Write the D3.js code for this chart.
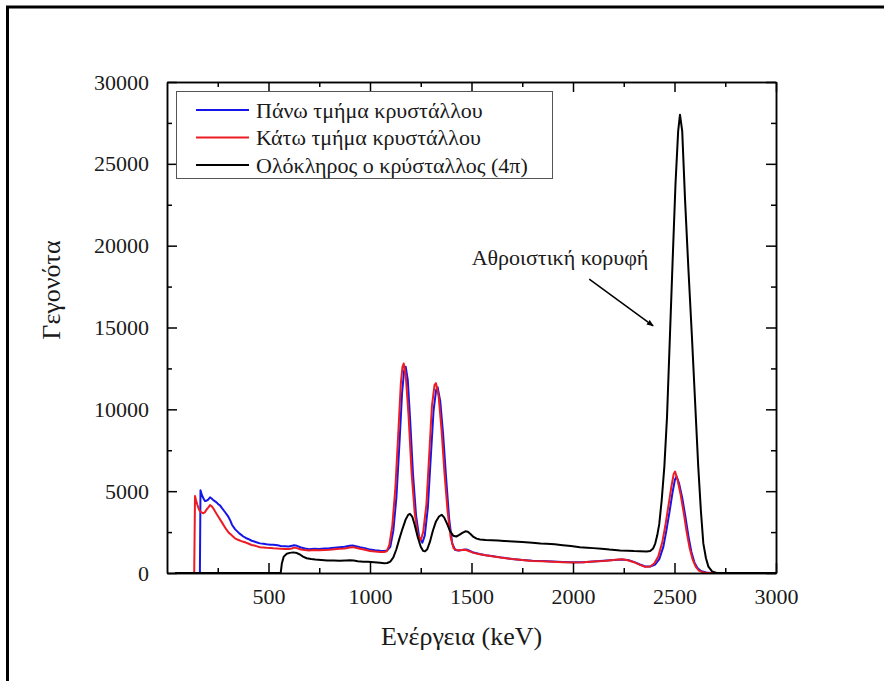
<!DOCTYPE html>
<html>
<head>
<meta charset="utf-8">
<script src="https://cdn.jsdelivr.net/npm/d3@7"></script>
<style>
  html, body { margin: 0; padding: 0; background: #fff; }
  svg text { font-family: "Liberation Serif", "Times New Roman", serif; fill: #1a1a1a; }
</style>
</head>
<body>
<svg id="chart" width="884" height="681"></svg>
<script>
// ---------- DATA ----------
const seriesNames = ["Πάνω τμήμα κρυστάλλου", "Κάτω τμήμα κρυστάλλου", "Ολόκληρος ο κρύσταλλος (4π)"];
const seriesColors = ["#1515e8", "#ec1c24", "#000000"];

const upperEnergy = [40,162,165,172,180,187,195,203,212,220,228,237,245,253,262,270,278,290,302,312,320,335,345,356,366,376,388,400,417,430,440,458,475,490,510,524,545,560,580,600,615,625,640,660,680,700,725,750,775,800,825,850,875,900,915,930,950,975,1000,1025,1050,1070,1085,
  1100,1115,1130,1145,1158,1168,1176,1186,1198,1212,1227,1242,1258,1270,1285,1299,1313,1326,1333,1346,1360,1375,1390,1405,1420,1440,1460,1475,1490,1510,1540,1570,1600,1650,1700,1750,1800,1850,1900,1950,2000,2050,2100,2150,2200,2240,2270,2300,2330,2355,2380,2405,2425,2445,2460,2475,2490,2502,2510,2522,2538,2553,2568,2583,2598,2613,2630,2655,2680,3000];
const upperCounts = [0,0,5050,4750,4550,4400,4420,4480,4620,4550,4450,4380,4300,4200,4120,3980,3850,3650,3440,3200,2950,2680,2560,2420,2330,2230,2140,2080,1970,1920,1880,1810,1790,1760,1730,1720,1690,1650,1640,1620,1660,1700,1660,1560,1500,1450,1480,1470,1500,1510,1540,1570,1600,1660,1680,1640,1580,1520,1430,1390,1360,1350,1380,
  1600,2600,4600,7900,11000,12350,12600,11800,9300,6000,3500,2200,1850,2300,4000,7000,9900,11200,11350,10500,8500,5800,3300,1800,1400,1380,1420,1440,1360,1250,1160,1090,1040,940,860,800,750,730,700,670,650,660,710,750,800,830,790,680,520,400,390,520,850,1600,2600,3700,4900,5700,5900,5500,4600,3500,2300,1300,650,300,120,30,0,0];

const lowerEnergy = [40,134,138,143,150,157,163,170,179,187,195,203,212,220,228,240,253,265,275,285,294,305,315,325,335,346,356,366,376,388,400,417,430,440,458,475,490,510,524,545,560,580,600,615,625,640,660,680,700,725,750,775,800,825,850,875,900,915,930,950,975,1000,1025,1050,1070,1082,
  1095,1110,1125,1140,1152,1160,1166,1176,1190,1205,1220,1235,1250,1262,1278,1292,1305,1318,1325,1338,1352,1367,1382,1397,1412,1430,1450,1470,1490,1510,1540,1570,1600,1650,1700,1750,1800,1850,1900,1950,2000,2050,2100,2150,2200,2240,2270,2300,2330,2355,2380,2400,2420,2440,2455,2470,2485,2496,2503,2515,2530,2545,2560,2575,2590,2605,2620,2640,2665,3000];
const lowerCounts = [0,0,4700,4450,4150,3900,3750,3700,3650,3720,3880,4000,4150,4080,3950,3700,3440,3200,3000,2800,2630,2450,2350,2230,2120,2050,2000,1950,1910,1860,1800,1710,1680,1640,1570,1560,1540,1530,1510,1490,1480,1470,1460,1500,1550,1520,1440,1400,1380,1400,1390,1410,1420,1450,1480,1500,1560,1580,1540,1480,1420,1350,1310,1290,1280,1320,
  1700,2900,5200,8700,11600,12600,12800,12100,9600,6100,3700,2350,2000,2500,4200,7300,10200,11500,11600,10800,8800,6100,3800,2200,1500,1380,1400,1420,1330,1230,1150,1080,1030,930,850,790,740,720,690,660,640,650,700,740,800,840,780,660,500,380,400,580,1000,1900,2900,4100,5300,6050,6200,5700,4800,3700,2500,1500,800,380,150,40,0,0];

const fullEnergy = [40,560,566,575,590,605,622,640,655,670,688,710,730,760,790,820,850,880,901,920,940,967,990,1020,1050,1070,1085,1100,1115,1130,1145,1160,1175,1188,1197,1208,1220,1235,1250,1262,1271,1282,1295,1310,1325,1340,1353,1365,1380,1395,1410,1425,1440,1455,1470,1482,1495,1510,1525,1542,1570,1600,1630,1660,1706,1750,1800,1840,1870,1910,1950,1990,2034,2070,2100,2140,2180,2232,2270,2300,2330,2363,2380,2395,2405,2415,2425,2437,2450,2463,2478,2492,2505,2518,2527,2538,2552,2568,2585,2601,2617,2630,2642,2655,2667,2685,2708,2800,3000];
const fullCounts = [0,0,600,1000,1180,1230,1260,1220,1130,1000,900,850,820,800,770,760,750,770,780,760,720,690,680,650,620,600,610,700,950,1450,2100,2700,3250,3550,3620,3450,2950,2200,1600,1350,1320,1450,1900,2600,3150,3450,3560,3400,3000,2550,2280,2230,2330,2450,2550,2520,2380,2200,2100,2050,2020,2000,1980,1960,1920,1890,1850,1800,1780,1750,1700,1650,1580,1550,1520,1480,1430,1380,1360,1340,1330,1320,1340,1500,1800,2300,3000,4460,6500,9500,14660,19500,23800,27000,28000,27000,22800,18700,14650,10570,6500,3800,1810,900,390,100,0,0,0];

const xTickValues = [500, 1000, 1500, 2000, 2500, 3000];
const xMinorTicks = [250, 750, 1250, 1750, 2250, 2750];
const yTickValues = [0, 5000, 10000, 15000, 20000, 25000, 30000];
const yMinorTicks = [2500, 7500, 12500, 17500, 22500, 27500];

const xTitle = "Ενέργεια (keV)";
const yTitle = "Γεγονότα";
const annotationText = "Αθροιστική κορυφή";

// ---------- LAYOUT ----------
const svg = d3.select("#chart");
const plot = { left: 167, right: 776, top: 82, bottom: 573 };

svg.append("rect").attr("width", 884).attr("height", 681).attr("fill", "#fff");
// outer frame (top & left)
svg.append("line").attr("x1", 6).attr("x2", 884).attr("y1", 7).attr("y2", 7)
  .attr("stroke", "#000").attr("stroke-width", 3);
svg.append("line").attr("x1", 7.5).attr("x2", 7.5).attr("y1", 6).attr("y2", 681)
  .attr("stroke", "#000").attr("stroke-width", 3);

const x = d3.scaleLinear().domain([0, 3000]).range([plot.left, plot.right]);
const y = d3.scaleLinear().domain([0, 30000]).range([plot.bottom, plot.top]);

// ---------- SERIES ----------
const line = d3.line().x(d => x(d[0])).y(d => y(d[1])).curve(d3.curveLinear);
const series = [
  { e: upperEnergy, c: upperCounts, color: seriesColors[0] },
  { e: lowerEnergy, c: lowerCounts, color: seriesColors[1] },
  { e: fullEnergy, c: fullCounts, color: seriesColors[2] }
];
const clip = svg.append("clipPath").attr("id", "clip").append("rect")
  .attr("x", plot.left).attr("y", plot.top)
  .attr("width", plot.right - plot.left).attr("height", plot.bottom - plot.top);
const gLines = svg.append("g").attr("clip-path", "url(#clip)");
series.forEach(s => {
  const pts = s.e.map((e, i) => [e, s.c[i]]);
  gLines.append("path").datum(pts).attr("d", line)
    .attr("fill", "none").attr("stroke", s.color)
    .attr("stroke-width", 2).attr("stroke-linejoin", "round");
});

// ---------- AXES ----------
function styleAxis(g) {
  g.select(".domain").attr("stroke", "#000").attr("stroke-width", 1.5);
  g.selectAll(".tick line").attr("stroke", "#000").attr("stroke-width", 1.5);
  g.selectAll(".tick text").attr("font-size", 22).attr("font-family", "Liberation Serif").attr("fill", "#1a1a1a");
}
const fmt = d3.format("d");
// bottom
svg.append("g").attr("transform", `translate(0,${plot.bottom})`)
  .call(d3.axisBottom(x).tickValues(xTickValues).tickSizeInner(-10).tickSizeOuter(0).tickPadding(15).tickFormat(fmt))
  .call(styleAxis);
svg.append("g").attr("transform", `translate(0,${plot.bottom})`)
  .call(d3.axisBottom(x).tickValues(xMinorTicks).tickSizeInner(-5).tickSizeOuter(0).tickFormat(""))
  .call(styleAxis);
// top
svg.append("g").attr("transform", `translate(0,${plot.top})`)
  .call(d3.axisTop(x).tickValues(xTickValues).tickSizeInner(-10).tickSizeOuter(0).tickFormat(""))
  .call(styleAxis);
svg.append("g").attr("transform", `translate(0,${plot.top})`)
  .call(d3.axisTop(x).tickValues(xMinorTicks).tickSizeInner(-5).tickSizeOuter(0).tickFormat(""))
  .call(styleAxis);
// left
svg.append("g").attr("transform", `translate(${plot.left},0)`)
  .call(d3.axisLeft(y).tickValues(yTickValues).tickSizeInner(-10).tickSizeOuter(0).tickPadding(18).tickFormat(fmt))
  .call(styleAxis);
svg.append("g").attr("transform", `translate(${plot.left},0)`)
  .call(d3.axisLeft(y).tickValues(yMinorTicks).tickSizeInner(-5).tickSizeOuter(0).tickFormat(""))
  .call(styleAxis);
// right
svg.append("g").attr("transform", `translate(${plot.right},0)`)
  .call(d3.axisRight(y).tickValues(yTickValues).tickSizeInner(-10).tickSizeOuter(0).tickFormat(""))
  .call(styleAxis);
svg.append("g").attr("transform", `translate(${plot.right},0)`)
  .call(d3.axisRight(y).tickValues(yMinorTicks).tickSizeInner(-5).tickSizeOuter(0).tickFormat(""))
  .call(styleAxis);

// axis titles
svg.append("text").attr("x", (plot.left + plot.right) / 2 - 10).attr("y", 645)
  .attr("text-anchor", "middle").attr("font-size", 26).text(xTitle);
svg.append("text").attr("transform", "translate(60,290) rotate(-90)")
  .attr("text-anchor", "middle").attr("font-size", 26).text(yTitle);

// ---------- LEGEND ----------
const legend = svg.append("g");
legend.append("rect").attr("x", 176.5).attr("y", 91.5).attr("width", 376).attr("height", 87)
  .attr("fill", "#fff").attr("stroke", "#555").attr("stroke-width", 1);
seriesNames.forEach((name, i) => {
  const cy = 110 + i * 27.5;
  legend.append("line").attr("x1", 196).attr("x2", 249).attr("y1", cy).attr("y2", cy)
    .attr("stroke", seriesColors[i]).attr("stroke-width", 2);
  legend.append("text").attr("x", 256).attr("y", cy).attr("dy", "0.35em")
    .attr("font-size", 22).text(name);
});

// ---------- ANNOTATION ----------
svg.append("defs").append("marker").attr("id", "arrow")
  .attr("viewBox", "0 0 10 10").attr("refX", 9).attr("refY", 5)
  .attr("markerWidth", 7).attr("markerHeight", 7).attr("markerUnits", "userSpaceOnUse")
  .attr("orient", "auto")
  .append("path").attr("d", "M0,1 L10,5 L0,9 Z").attr("fill", "#000");
svg.append("text").attr("x", 560).attr("y", 265).attr("text-anchor", "middle")
  .attr("font-size", 22).text(annotationText);
svg.append("line").attr("x1", x(2080)).attr("y1", y(17950)).attr("x2", x(2395)).attr("y2", y(15100))
  .attr("stroke", "#000").attr("stroke-width", 1.5).attr("marker-end", "url(#arrow)");
</script>
</body>
</html>
